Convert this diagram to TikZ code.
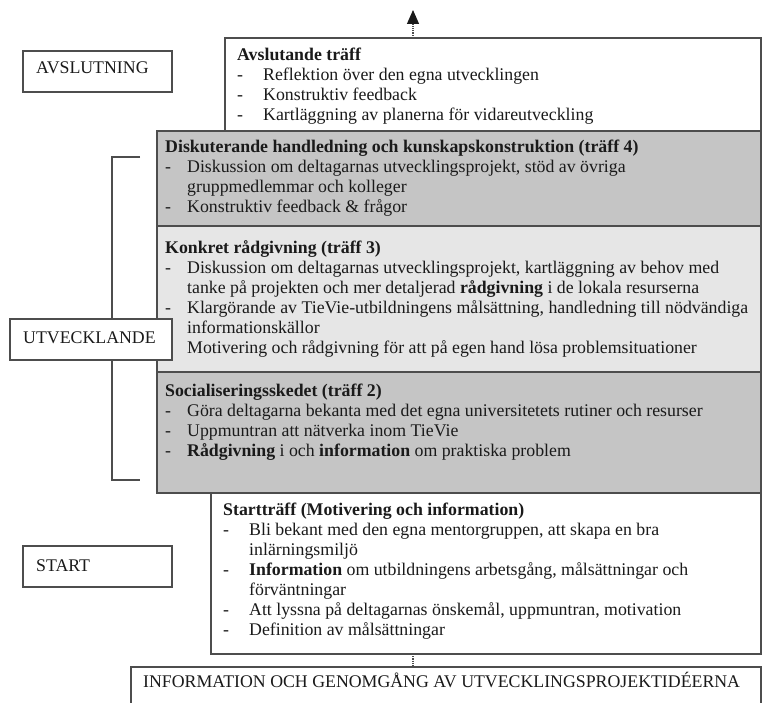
\documentclass[tikz,border=0pt]{standalone}
\usepackage{fontspec}
\setmainfont{Liberation Serif}
\usetikzlibrary{arrows.meta}
\definecolor{edge}{HTML}{4D4D4D}
\definecolor{ink}{HTML}{1A1A1A}
\definecolor{shadeD}{HTML}{C5C5C5}
\definecolor{shadeL}{HTML}{E6E6E6}
% strut fixing the height of the first line of a text block
\newcommand\firstln{\rule{0pt}{14pt}}
% hanging dash of a list line
\newcommand\bul[1]{\makebox[#1][l]{-}}
\begin{document}
\begin{tikzpicture}[x=1pt,y=-1pt,
  panel/.style={draw=edge, line width=1.3pt, rectangle, inner sep=0pt, outer sep=0pt, anchor=north west},
  txt/.style={text=ink, font=\fontsize{17.8}{20}\selectfont, inner sep=0pt, align=left, anchor=north west},
  lbltxt/.style={text=ink, font=\fontsize{17.8}{20}\selectfont, inner sep=0pt, anchor=base west},
  brace/.style={draw=edge, line width=1.3pt},
  flow/.style={draw=edge, line width=1.2pt, densely dotted},
  flowtip/.style={flow, -{Triangle[width=12pt,length=14pt,fill=ink,color=ink]}}]
\clip (0,0) rectangle (762,703);
\fill[white] (0,0) rectangle (762,703);

% phase panels, top to bottom
\node[panel, fill=white,  minimum width=536pt, minimum height=93pt]  (avsl) at (225,38) {};
\node[panel, fill=shadeD, minimum width=604pt, minimum height=95pt]  (m4)   at (157,131) {};
\node[panel, fill=shadeL, minimum width=604pt, minimum height=146pt] (m3)   at (157,226) {};
\node[panel, fill=shadeD, minimum width=604pt, minimum height=121pt] (m2)   at (157,372) {};
\node[panel, fill=white,  minimum width=550pt, minimum height=161pt] (st)   at (211,493) {};
\node[panel, fill=white,  minimum width=630pt, minimum height=60pt]  (info) at (131,667) {};

% connectors
\coordinate (tip) at (413,10);
\draw[flowtip] (tip |- avsl.north) -- (tip);
\draw[flow] (tip |- st.south) -- (tip |- info.north);

% panel texts
\node[txt] (tavsl) at (237,46) {\firstln\textbf{Avslutande träff}\\%
\bul{26pt}Reflektion över den egna utvecklingen\\%
\bul{26pt}Konstruktiv feedback\\%
\bul{26pt}Kartläggning av planerna för vidareutveckling};

\node[txt] (tm4) at (165,138) {\firstln\textbf{Diskuterande handledning och kunskapskonstruktion (träff 4)}\\%
\bul{22pt}Diskussion om deltagarnas utvecklingsprojekt, stöd av övriga\\%
\hspace*{22pt}gruppmedlemmar och kolleger\\%
\bul{22pt}Konstruktiv feedback \& frågor};

\node[txt] (tm3) at (165,239.5) {\firstln\textbf{Konkret rådgivning (träff 3)}\\%
\bul{22pt}Diskussion om deltagarnas utvecklingsprojekt, kartläggning av behov med\\%
\hspace*{22pt}tanke på projekten och mer detaljerad \textbf{rådgivning} i de lokala resurserna\\%
\bul{22pt}Klargörande av TieVie-utbildningens målsättning, handledning till nödvändiga\\%
\hspace*{22pt}informationskällor\\%
\bul{22pt}Motivering och rådgivning för att på egen hand lösa problemsituationer};

\node[txt] (tm2) at (165,382.5) {\firstln\textbf{Socialiseringsskedet (träff 2)}\\%
\bul{22pt}Göra deltagarna bekanta med det egna universitetets rutiner och resurser\\%
\bul{22pt}Uppmuntran att nätverka inom TieVie\\%
\bul{22pt}\textbf{Rådgivning} i och \textbf{information} om praktiska problem};

\node[txt] (tst) at (223,501.5) {\firstln\textbf{Startträff (Motivering och information)}\\%
\bul{26pt}Bli bekant med den egna mentorgruppen, att skapa en bra\\%
\hspace*{26pt}inlärningsmiljö\\%
\bul{26pt}\textbf{Information} om utbildningens arbetsgång, målsättningar och\\%
\hspace*{26pt}förväntningar\\%
\bul{26pt}Att lyssna på deltagarnas önskemål, uppmuntran, motivation\\%
\bul{26pt}Definition av målsättningar};

\node[lbltxt] (tinfo) at (143,687) {INFORMATION OCH GENOMGÅNG AV UTVECKLINGSPROJEKTIDÉERNA};

% bracket spanning the developing phase
\draw[brace] (140,157) -| (112,480) -- (140,480);

% phase labels
\node[panel, fill=white, minimum width=149pt, minimum height=41pt] (lavs) at (23,51) {};
\node[panel, fill=white, minimum width=162pt, minimum height=41pt] (lutv) at (10,319) {};
\node[panel, fill=white, minimum width=149pt, minimum height=41pt] (lsta) at (23,546) {};
\node[lbltxt] (tavs) at (36,74) {AVSLUTNING};
\node[lbltxt] (tutv) at (23,343) {UTVECKLANDE};
\node[lbltxt] (tsta) at (36,571) {START};
\end{tikzpicture}
\end{document}
